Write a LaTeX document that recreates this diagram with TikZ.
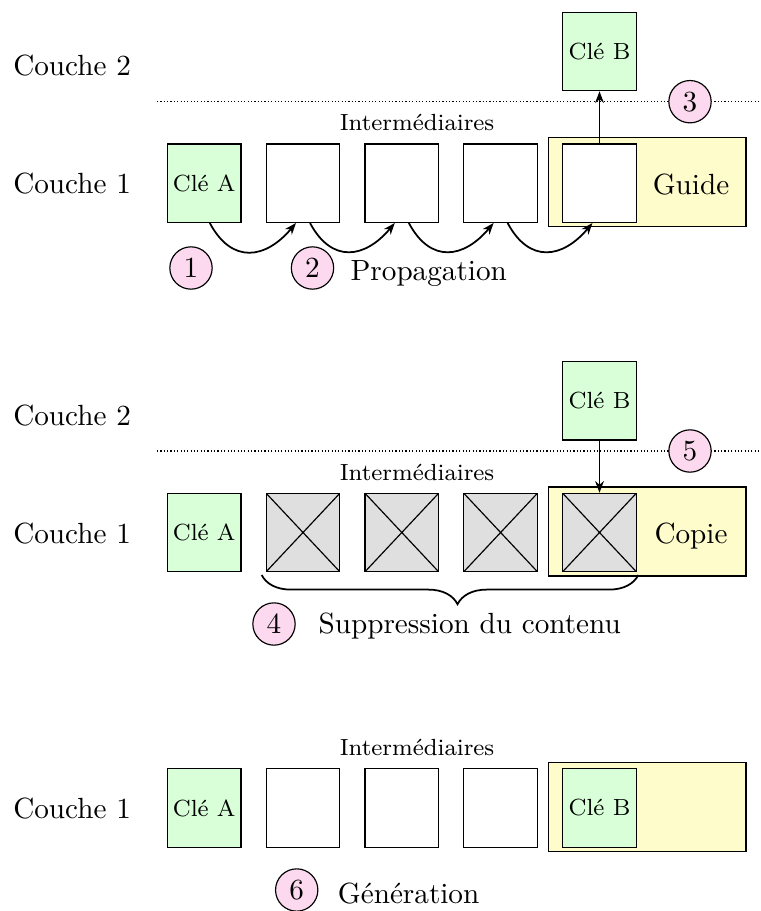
\documentclass[tikz,border=0pt]{standalone}
\usetikzlibrary{arrows.meta,decorations.pathreplacing,calc}
\begin{document}
\begin{tikzpicture}[x=0.3425pt,y=-0.3425pt]
\tikzset{
 box/.style={draw, minimum width=25.2pt, minimum height=26.85pt, inner sep=0pt, font=\footnotesize},
 key/.style={box, fill=green!15},
 emptybox/.style={box, fill=white},
 crossed/.style={box, fill=gray!25, path picture={\draw (path picture bounding box.south west) -- (path picture bounding box.north east) (path picture bounding box.north west) -- (path picture bounding box.south east);}},
 zone/.style={draw, fill=yellow!20, minimum width=67.7pt, minimum height=30.5pt, inner sep=0pt},
 num/.style={circle, draw, fill=magenta!15, minimum size=14.5pt, inner sep=0pt},
 lbl/.style={anchor=base west, inner sep=0pt},
 mid/.style={anchor=base, inner sep=0pt, font=\footnotesize},
 arr/.style={-{Stealth[length=4pt,width=3pt]}, semithick},
 prop/.style={arr, out=-62, in=-130, looseness=1.4},
 sepline/.style={dash pattern=on 0.4pt off 0.75pt}
}
\useasboundingbox (0,0) rectangle (760,911);

% ---------- Section 1 ----------
\node[lbl] (c2a) at (12.7,75.7) {Couche 2};
\node[lbl] (c1a) at (12.7,194) {Couche 1};
\coordinate (s1l) at (157,101.7);
\coordinate (s1r) at (760,101.7);
\draw[sepline] (s1l) -- (s1r);
\node[mid] (ia) at (417,130.7) {Intermédiaires};
\node[zone] (za) at (647.2,182.2) {};
\node[key] (a1) at (204.2,183.2) {Clé A};
\node[emptybox] (a2) at (303,183.2) {};
\node[emptybox] (a3) at (401.8,183.2) {};
\node[emptybox] (a4) at (500.6,183.2) {};
\node[emptybox] (a5) at (599.5,183.2) {};
\node[anchor=base, inner sep=0pt] (guide) at (691,194.5) {Guide};
\node[key] (aB) at (599.5,51.5) {Clé B};
\draw[arr] (a5.north) -- (aB.south);
\draw[prop] (a1.-82) to (a2.-100);
\draw[prop] (a2.-80) to (a3.-100);
\draw[prop] (a3.-80) to (a4.-100);
\draw[prop] (a4.-80) to (a5.-100);
\node[num] (n1) at (191,268) {1};
\node[num] (n2) at (312.5,268) {2};
\node[lbl] (tprop) at (350,280) {Propagation};
\node[num] (n3) at (690,101.7) {3};

% ---------- Section 2 ----------
\node[lbl] (c2b) at (12.7,425) {Couche 2};
\node[lbl] (c1b) at (12.7,543.3) {Couche 1};
\coordinate (s2l) at (157,451);
\coordinate (s2r) at (760,451);
\draw[sepline] (s2l) -- (s2r);
\node[mid] (ib) at (417,480) {Intermédiaires};
\node[zone] (zb) at (647.2,531.5) {};
\node[key] (b1) at (204.2,532.5) {Clé A};
\node[crossed] (b2) at (303,532.5) {};
\node[crossed] (b3) at (401.8,532.5) {};
\node[crossed] (b4) at (500.6,532.5) {};
\node[crossed] (b5) at (599.5,532.5) {};
\node[anchor=base, inner sep=0pt] (copie) at (691,543.8) {Copie};
\node[key] (bB) at (599.5,400.8) {Clé B};
\draw[arr] (bB.south) -- (b5.north);
\node[num] (n5) at (690,451) {5};
\coordinate (brl) at (261.7,575);
\coordinate (brr) at (638.3,575);
\draw[semithick, decorate, decoration={brace, mirror, amplitude=10pt, aspect=0.52}] (brl) -- (brr);
\node[num] (n4) at (274,624) {4};
\node[lbl] (tsup) at (318,633.3) {Suppression du contenu};

% ---------- Section 3 ----------
\node[lbl] (c1c) at (12.7,818.8) {Couche 1};
\node[mid] (ic) at (417,755.5) {Intermédiaires};
\node[zone] (zc) at (647.2,807) {};
\node[key] (c1) at (204.2,808) {Clé A};
\node[emptybox] (c2) at (303,808) {};
\node[emptybox] (c3) at (401.8,808) {};
\node[emptybox] (c4) at (500.6,808) {};
\node[key] (c5) at (599.5,808) {Clé B};
\node[num] (n6) at (296.7,890) {6};
\node[lbl] (tgen) at (337.3,903.3) {Génération};
\end{tikzpicture}
\end{document}
